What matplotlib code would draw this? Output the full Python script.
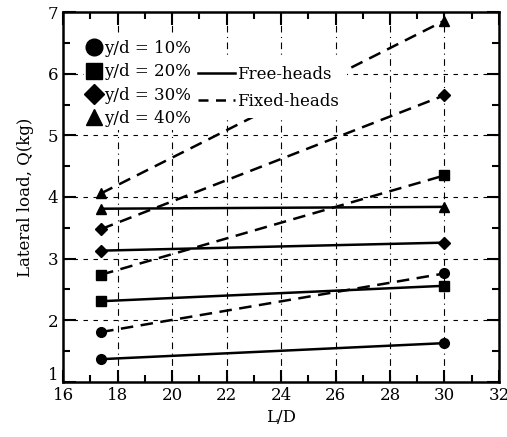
import matplotlib
matplotlib.use('Agg')
import matplotlib.pyplot as plt
import matplotlib.transforms as mtrans
from matplotlib.lines import Line2D
import numpy as np

plt.rcParams['font.family'] = 'DejaVu Serif'

ld = [17.4, 30]
labels = ['y/d = 10%', 'y/d = 20%', 'y/d = 30%', 'y/d = 40%']
markers = ['o', 's', 'D', '^']
free_heads = [[1.37, 1.63], [2.31, 2.56], [3.13, 3.26], [3.81, 3.84]]
fixed_heads = [[1.81, 2.76], [2.74, 4.35], [3.48, 5.65], [4.06, 6.86]]

fig = plt.figure(figsize=(5.07, 4.37), dpi=100)
ax = fig.add_axes([0.1243, 0.1259, 0.8599, 0.8466])

msz = [7, 7, 6, 7]
for i in range(4):
    ax.plot(ld, free_heads[i], 'k-', lw=1.8, marker=markers[i], ms=msz[i], zorder=3)
    ax.plot(ld, fixed_heads[i], 'k', lw=1.8, ls=(0, (5, 3)), marker=markers[i], ms=msz[i], zorder=3)

ax.set_xlim(16, 32)
ax.set_ylim(1, 7)
ax.set_xticks(np.arange(16, 33, 2))
ax.set_xticks(np.arange(17, 32, 2), minor=True)
ax.set_yticks(np.arange(1, 8, 1))
ax.set_yticks(np.arange(1.5, 7, 1), minor=True)
ax.tick_params(which='both', direction='in', top=True, right=True, labelsize=12, width=1.5)
ax.tick_params(which='major', length=9)
ax.tick_params(which='minor', length=5)
for s in ax.spines.values():
    s.set_linewidth(1.8)

# lift the lowest y label a little, as in the original
lab0 = ax.get_yticklabels()[0]
lab0.set_transform(lab0.get_transform() + mtrans.ScaledTranslation(0, 8 / 100, fig.dpi_scale_trans))

for x in range(18, 31, 2):
    ax.axvline(x, color='k', lw=0.8, ls=(0, (6, 4, 1, 4)), zorder=1)
for y in range(2, 7):
    ax.axhline(y, color='k', lw=0.8, ls=(0, (4, 5)), zorder=1)

ax.set_xlabel('L/D', fontsize=12)
ax.set_ylabel('Lateral load, Q(kg)', fontsize=12, labelpad=10)

h1 = [Line2D([], [], color='k', ls='none', marker=m, ms=12 if m != 'D' else 10) for m in markers]
leg1 = ax.legend(h1, labels, loc='upper left', bbox_to_anchor=(0.03, 0.955), fontsize=12,
                 handlelength=0.8, handletextpad=0.15, labelspacing=0.37, borderpad=0.2,
                 frameon=True, facecolor='white', edgecolor='none', framealpha=1)
ax.add_artist(leg1)
h2 = [Line2D([], [], color='k', lw=1.8), Line2D([], [], color='k', lw=1.8, ls=(0, (4, 3)))]
leg2 = ax.legend(h2, ['Free-heads', 'Fixed-heads'], loc='upper left', bbox_to_anchor=(0.272, 0.9),
                 fontsize=12, handlelength=2.2, handletextpad=0.1, labelspacing=0.62, borderpad=0.5,
                 frameon=True, facecolor='white', edgecolor='none', framealpha=1)

fig.savefig('out.png', dpi=100)
